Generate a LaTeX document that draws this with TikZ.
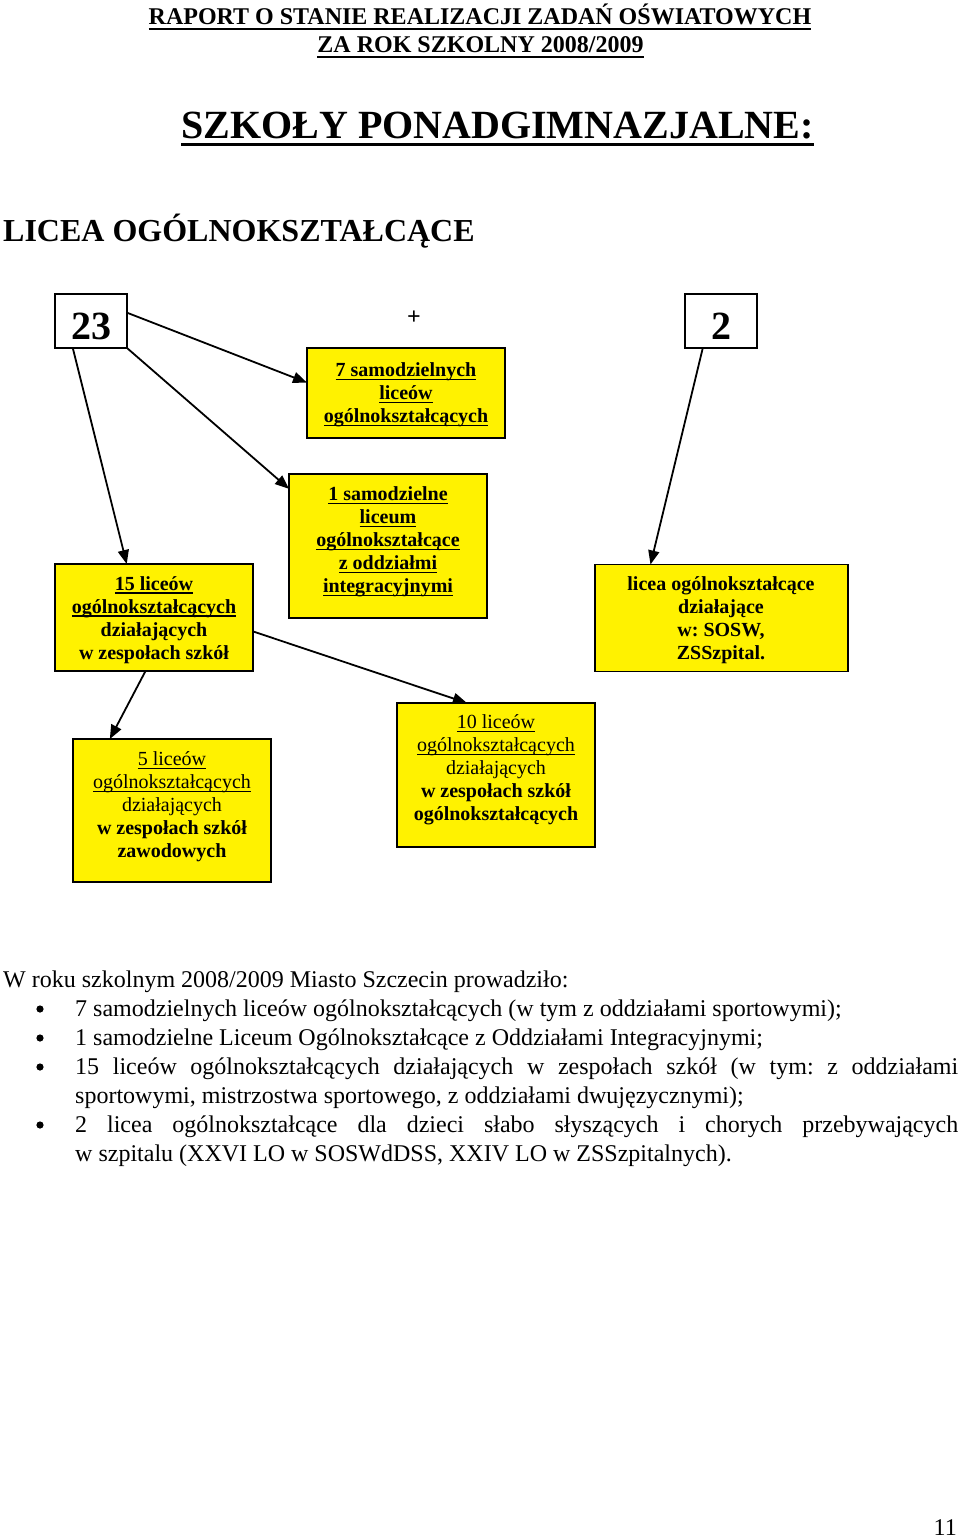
\documentclass[tikz,border=0pt]{standalone}
\usepackage{fontspec}
\setmainfont{Liberation Serif}
\usetikzlibrary{arrows.meta}
\frenchspacing
\newsavebox\ulbox
\newcommand\myul[3]{\sbox\ulbox{#3}\rlap{\rule[-#1]{\wd\ulbox}{#2}}\usebox\ulbox}
\newcommand\bu[1]{\myul{3.5pt}{1.4pt}{#1}}
\newcommand\ru[1]{\myul{3pt}{1pt}{#1}}
\begin{document}
\begin{tikzpicture}[x=1pt,y=-1pt,
  ybox/.style={draw=black, line width=1.5pt, fill=yellow, minimum width=198pt, minimum height=144pt, inner sep=0pt, outer sep=0pt},
  wbox/.style={draw=black, line width=1.5pt, fill=white, minimum width=72pt, minimum height=54pt, inner sep=0pt, outer sep=0pt, font=\fontsize{40}{40}\selectfont\bfseries, text height=37pt, text depth=0pt},
  boxtext/.style={align=center, inner sep=0pt, font=\fontsize{20}{23}\selectfont},
  boldtext/.style={boxtext, font=\fontsize{20}{23}\selectfont\bfseries},
  arr/.style={line width=1.8pt, -{Triangle[length=14pt,width=11pt]}},
  body/.style={anchor=base west, inner sep=0pt, font=\fontsize{24}{29}\selectfont},
  head/.style={anchor=base, inner sep=0pt}
]
\useasboundingbox (0,0) rectangle (960,1540);
\fill[white] (0,0) rectangle (960,1540);

% headings
\node[head, font=\fontsize{24}{24}\selectfont\bfseries] (h1) at (480,24) {\myul{5.5pt}{2pt}{RAPORT O STANIE REALIZACJI ZADAŃ OŚWIATOWYCH}};
\node[head, font=\fontsize{24}{24}\selectfont\bfseries] (h2) at (480.5,52) {\myul{5.5pt}{2pt}{ZA ROK SZKOLNY 2008/2009}};
\node[head, font=\fontsize{40}{40}\selectfont\bfseries] (h3) at (497.5,138.5) {\myul{7.5pt}{3pt}{SZKOŁY PONADGIMNAZJALNE:}};
\node[head, anchor=base west, font=\fontsize{32}{32}\selectfont\bfseries] (h4) at (3,241) {LICEA OGÓLNOKSZTAŁCĄCE};

% boxes
\node[wbox] (b23) at (91,321) {23};
\node[wbox] (b2) at (721,321) {2};
\node[inner sep=0pt, font=\fontsize{24}{24}\selectfont\bfseries] (plus) at (414,318) {+};
\node[ybox, minimum height=90pt] (b7) at (406,393) {};
\node[ybox] (b1) at (388,546) {};
\node[ybox, minimum height=107pt] (b15) at (154,617.5) {};
\node[ybox, minimum width=253pt, minimum height=107pt] (bl) at (721.5,618) {};
\node[ybox, minimum height=143pt] (b5) at (172,810.5) {};
\node[ybox] (b10) at (496,775) {};

% box texts
\node[boldtext] (t7) at (406,395) {\bu{7 samodzielnych}\\\bu{liceów}\\\bu{ogólnokształcących}};
\node[boldtext] (t1) at (388,542) {\bu{1 samodzielne}\\\bu{liceum}\\\bu{ogólnokształcące}\\\bu{z oddziałmi}\\\bu{integracyjnymi}};
\node[boldtext] (t15) at (154,620) {\bu{15 liceów}\\\bu{ogólnokształcących}\\działających\\w zespołach szkół};
\node[boldtext] (tl) at (721,620) {licea ogólnokształcące\\działające\\w: SOSW,\\ZSSzpital.};
\node[boxtext] (t5) at (172,807) {\ru{5 liceów}\\\ru{ogólnokształcących}\\działających\\{\bfseries w zespołach szkół}\\{\bfseries zawodowych}};
\node[boxtext] (t10) at (496,770) {\ru{10 liceów}\\\ru{ogólnokształcących}\\działających\\{\bfseries w zespołach szkół}\\{\bfseries ogólnokształcących}};

% connectors
\draw[arr] (b23.13) -- (b7.174);
\draw[arr] (b23.south east) -- (b1.150);
\draw[arr] (b23.236) -- (b15.117);
\draw[arr] (b2.236) -- (bl.143);
\draw[arr] (b15.261) -- (b5.131);
\draw[arr] (b15.-8) -- (b10.112);

% body text
\node[body] (p0) at (3,987) {W roku szkolnym 2008/2009 Miasto Szczecin prowadziło:};
\node[body] (p1) at (75,1016) {7 samodzielnych liceów ogólnokształcących (w tym z oddziałami sportowymi);};
\node[body] (p2) at (75,1045) {1 samodzielne Liceum Ogólnokształcące z Oddziałami Integracyjnymi;};
\node[body] (p3) at (75,1074) {\makebox[883pt][s]{15 liceów ogólnokształcących działających w zespołach szkół (w tym: z oddziałami}};
\node[body] (p4) at (75,1103) {sportowymi, mistrzostwa sportowego, z oddziałami dwujęzycznymi);};
\node[body] (p5) at (75,1132) {\makebox[883pt][s]{2 licea ogólnokształcące dla dzieci słabo słyszących i chorych przebywających}};
\node[body] (p6) at (75,1161) {w szpitalu (XXVI LO w SOSWdDSS, XXIV LO w ZSSzpitalnych).};
\fill (40,1009) circle (3.6pt);
\fill (40,1038) circle (3.6pt);
\fill (40,1067) circle (3.6pt);
\fill (40,1125) circle (3.6pt);

% page number
\node[body, anchor=base east] (pg) at (957,1535) {11};
\end{tikzpicture}
\end{document}
